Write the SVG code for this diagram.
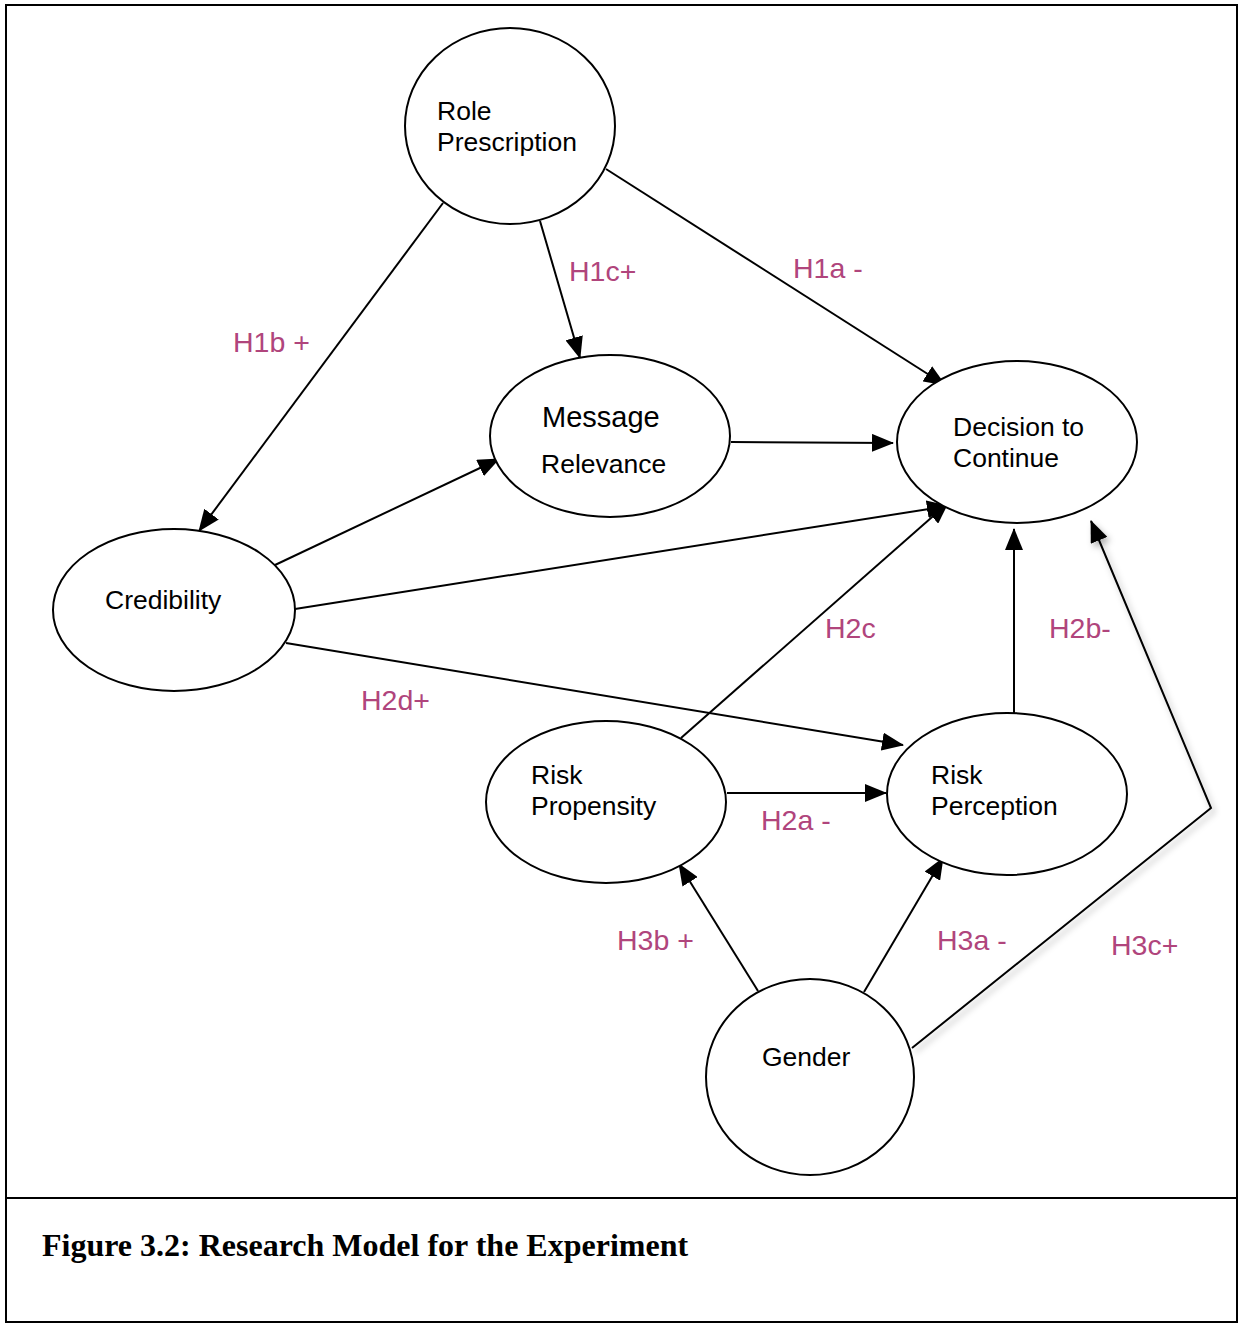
<svg xmlns="http://www.w3.org/2000/svg" width="1240" height="1324" viewBox="0 0 1240 1324">
  <style>
    .node ellipse { fill: #ffffff; stroke: #000000; stroke-width: 2; }
    .node text { font-family: "Liberation Sans", Arial, sans-serif; font-size: 26.5px; fill: #000000; }
    .edge { fill: none; stroke: #000000; stroke-width: 2; }
    .lbl { font-family: "Liberation Sans", Arial, sans-serif; font-size: 28.5px; fill: #b0457c; }
    .caption { font-family: "Liberation Serif", "Times New Roman", serif; font-size: 32px; font-weight: bold; fill: #000000; }
  </style>
  <defs>
    <marker id="arrow" markerUnits="userSpaceOnUse" markerWidth="22" markerHeight="18" refX="21" refY="9" orient="auto">
      <path d="M0,0 L22,9 L0,18 z" fill="#000000"/>
    </marker>
    <filter id="shadow" x="-20%" y="-20%" width="140%" height="140%">
      <feDropShadow dx="3" dy="4" stdDeviation="3" flood-color="#000000" flood-opacity="0.3"/>
    </filter>
  </defs>

  <!-- frame -->
  <rect x="0" y="0" width="1240" height="1324" fill="#ffffff"/>
  <rect x="6" y="5" width="1231" height="1317" fill="none" stroke="#000000" stroke-width="2"/>
  <line x1="6" y1="1198" x2="1237" y2="1198" stroke="#000000" stroke-width="2"/>

  <!-- connectors -->
  <g id="connectors">
    <line class="edge" x1="443" y1="203" x2="199" y2="531" marker-end="url(#arrow)"/>
    <line class="edge" x1="540" y1="221" x2="580" y2="358" marker-end="url(#arrow)"/>
    <line class="edge" x1="606" y1="169" x2="945" y2="385" marker-end="url(#arrow)"/>
    <line class="edge" x1="731" y1="442" x2="893" y2="443" marker-end="url(#arrow)"/>
    <line class="edge" x1="275" y1="565" x2="499" y2="459" marker-end="url(#arrow)"/>
    <line class="edge" x1="295" y1="609" x2="948" y2="506" marker-end="url(#arrow)"/>
    <line class="edge" x1="286" y1="643" x2="903" y2="745" marker-end="url(#arrow)"/>
    <line class="edge" x1="681" y1="738" x2="948" y2="503" marker-end="url(#arrow)"/>
    <line class="edge" x1="727" y1="793" x2="886" y2="793" marker-end="url(#arrow)"/>
    <line class="edge" x1="1014" y1="713" x2="1014" y2="529" marker-end="url(#arrow)"/>
    <line class="edge" x1="758" y1="991" x2="679" y2="864" marker-end="url(#arrow)"/>
    <line class="edge" x1="864" y1="992" x2="943" y2="858" marker-end="url(#arrow)"/>
    <polyline class="edge" points="912,1048 1211,808 1091,521" marker-end="url(#arrow)" filter="url(#shadow)"/>
  </g>

  <!-- nodes -->
  <g id="role-prescription" class="node">
    <ellipse cx="510" cy="126" rx="105" ry="98"/>
    <text x="437" y="120">Role</text>
    <text x="437" y="151">Prescription</text>
  </g>
  <g id="message-relevance" class="node">
    <ellipse cx="610" cy="436" rx="120" ry="81"/>
    <text x="542" y="427" style="font-size:29px">Message</text>
    <text x="541" y="473">Relevance</text>
  </g>
  <g id="decision-to-continue" class="node">
    <ellipse cx="1017" cy="442" rx="120" ry="81"/>
    <text x="953" y="436">Decision to</text>
    <text x="953" y="467">Continue</text>
  </g>
  <g id="credibility" class="node">
    <ellipse cx="174" cy="610" rx="121" ry="81"/>
    <text x="105" y="609">Credibility</text>
  </g>
  <g id="risk-propensity" class="node">
    <ellipse cx="606" cy="802" rx="120" ry="81"/>
    <text x="531" y="784">Risk</text>
    <text x="531" y="815">Propensity</text>
  </g>
  <g id="risk-perception" class="node">
    <ellipse cx="1007" cy="794" rx="120" ry="81"/>
    <text x="931" y="784">Risk</text>
    <text x="931" y="815">Perception</text>
  </g>
  <g id="gender" class="node">
    <ellipse cx="810" cy="1077" rx="104" ry="98"/>
    <text x="762" y="1066">Gender</text>
  </g>

  <!-- hypothesis labels -->
  <g id="labels">
    <text class="lbl" x="569" y="281">H1c+</text>
    <text class="lbl" x="793" y="278">H1a -</text>
    <text class="lbl" x="233" y="352">H1b +</text>
    <text class="lbl" x="825" y="638">H2c</text>
    <text class="lbl" x="1049" y="638">H2b-</text>
    <text class="lbl" x="361" y="710">H2d+</text>
    <text class="lbl" x="761" y="830">H2a -</text>
    <text class="lbl" x="617" y="950">H3b +</text>
    <text class="lbl" x="937" y="950">H3a -</text>
    <text class="lbl" x="1111" y="955">H3c+</text>
  </g>

  <text class="caption" x="42" y="1256">Figure 3.2: Research Model for the Experiment</text>
</svg>
